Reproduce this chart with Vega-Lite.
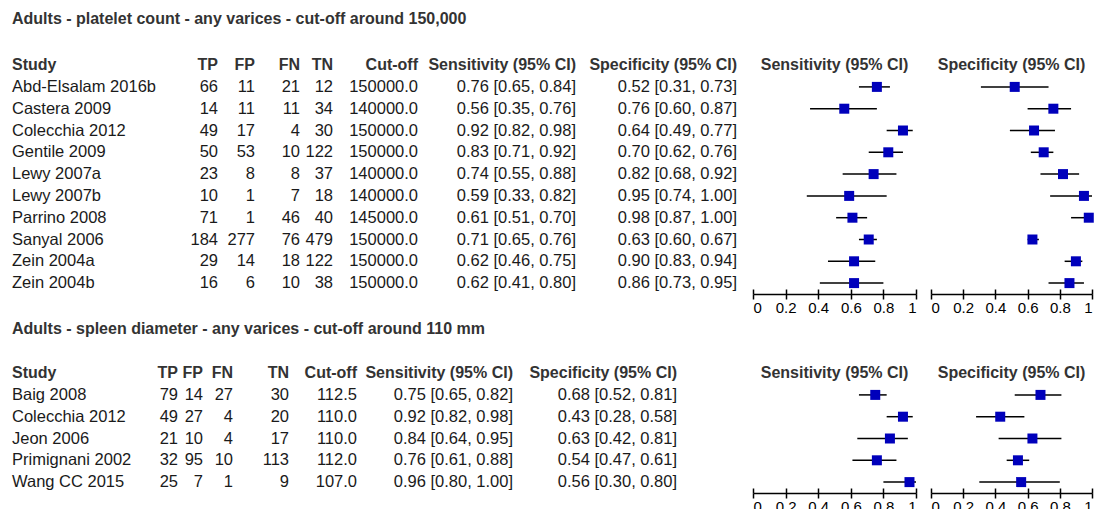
{
  "$schema": "https://vega.github.io/schema/vega-lite/v6.json",
  "background": "white",
  "padding": {"left": 12, "top": 11, "right": 0, "bottom": 0},
  "config": {
    "view": {"stroke": null},
    "font": "Liberation Sans",
    "title": {"font": "Liberation Sans", "fontSize": 16, "fontWeight": "bold", "color": "#333333", "baseline": "middle", "offset": 3, "frame": "group"},
    "text": {"font": "Liberation Sans", "fontSize": 16.5, "color": "#1a1a1a"}
  },
  "datasets": {
    "platelet": [
      {"Study": "Abd-Elsalam 2016b", "TP": 66, "FP": 11, "FN": 21, "TN": 12, "Cutoff": 150000, "sens": 0.76, "sensLo": 0.65, "sensHi": 0.84, "spec": 0.52, "specLo": 0.31, "specHi": 0.73},
      {"Study": "Castera 2009", "TP": 14, "FP": 11, "FN": 11, "TN": 34, "Cutoff": 140000, "sens": 0.56, "sensLo": 0.35, "sensHi": 0.76, "spec": 0.76, "specLo": 0.60, "specHi": 0.87},
      {"Study": "Colecchia 2012", "TP": 49, "FP": 17, "FN": 4, "TN": 30, "Cutoff": 150000, "sens": 0.92, "sensLo": 0.82, "sensHi": 0.98, "spec": 0.64, "specLo": 0.49, "specHi": 0.77},
      {"Study": "Gentile 2009", "TP": 50, "FP": 53, "FN": 10, "TN": 122, "Cutoff": 150000, "sens": 0.83, "sensLo": 0.71, "sensHi": 0.92, "spec": 0.70, "specLo": 0.62, "specHi": 0.76},
      {"Study": "Lewy 2007a", "TP": 23, "FP": 8, "FN": 8, "TN": 37, "Cutoff": 140000, "sens": 0.74, "sensLo": 0.55, "sensHi": 0.88, "spec": 0.82, "specLo": 0.68, "specHi": 0.92},
      {"Study": "Lewy 2007b", "TP": 10, "FP": 1, "FN": 7, "TN": 18, "Cutoff": 140000, "sens": 0.59, "sensLo": 0.33, "sensHi": 0.82, "spec": 0.95, "specLo": 0.74, "specHi": 1.00},
      {"Study": "Parrino 2008", "TP": 71, "FP": 1, "FN": 46, "TN": 40, "Cutoff": 145000, "sens": 0.61, "sensLo": 0.51, "sensHi": 0.70, "spec": 0.98, "specLo": 0.87, "specHi": 1.00},
      {"Study": "Sanyal 2006", "TP": 184, "FP": 277, "FN": 76, "TN": 479, "Cutoff": 150000, "sens": 0.71, "sensLo": 0.65, "sensHi": 0.76, "spec": 0.63, "specLo": 0.60, "specHi": 0.67},
      {"Study": "Zein 2004a", "TP": 29, "FP": 14, "FN": 18, "TN": 122, "Cutoff": 150000, "sens": 0.62, "sensLo": 0.46, "sensHi": 0.75, "spec": 0.90, "specLo": 0.83, "specHi": 0.94},
      {"Study": "Zein 2004b", "TP": 16, "FP": 6, "FN": 10, "TN": 38, "Cutoff": 150000, "sens": 0.62, "sensLo": 0.41, "sensHi": 0.80, "spec": 0.86, "specLo": 0.73, "specHi": 0.95}
    ],
    "spleen": [
      {"Study": "Baig 2008", "TP": 79, "FP": 14, "FN": 27, "TN": 30, "Cutoff": 112.5, "sens": 0.75, "sensLo": 0.65, "sensHi": 0.82, "spec": 0.68, "specLo": 0.52, "specHi": 0.81},
      {"Study": "Colecchia 2012", "TP": 49, "FP": 27, "FN": 4, "TN": 20, "Cutoff": 110.0, "sens": 0.92, "sensLo": 0.82, "sensHi": 0.98, "spec": 0.43, "specLo": 0.28, "specHi": 0.58},
      {"Study": "Jeon 2006", "TP": 21, "FP": 10, "FN": 4, "TN": 17, "Cutoff": 110.0, "sens": 0.84, "sensLo": 0.64, "sensHi": 0.95, "spec": 0.63, "specLo": 0.42, "specHi": 0.81},
      {"Study": "Primignani 2002", "TP": 32, "FP": 95, "FN": 10, "TN": 113, "Cutoff": 112.0, "sens": 0.76, "sensLo": 0.61, "sensHi": 0.88, "spec": 0.54, "specLo": 0.47, "specHi": 0.61},
      {"Study": "Wang CC 2015", "TP": 25, "FP": 7, "FN": 1, "TN": 9, "Cutoff": 107.0, "sens": 0.96, "sensLo": 0.80, "sensHi": 1.00, "spec": 0.56, "specLo": 0.30, "specHi": 0.80}
    ]
  },
  "spacing": 6,
  "vconcat": [
    {
      "data": {"name": "platelet"},
      "transform": [
        {"calculate": "format(datum.sens, '.2f') + ' [' + format(datum.sensLo, '.2f') + ', ' + format(datum.sensHi, '.2f') + ']'", "as": "sensCI"},
        {"calculate": "format(datum.spec, '.2f') + ' [' + format(datum.specLo, '.2f') + ', ' + format(datum.specHi, '.2f') + ']'", "as": "specCI"}
      ],
      "title": {"text": "Adults - platelet count - any varices - cut-off around 150,000", "anchor": "start", "offset": 30},
      "spacing": 15,
      "hconcat": [
        {
          "spacing": 0,
          "hconcat": [
            {"width": 150, "height": 218, "title": {"text": "Study", "anchor": "start"},
             "mark": {"type": "text", "align": "left"},
             "encoding": {"y": {"field": "Study", "type": "nominal", "sort": null, "axis": null, "scale": {"type": "point", "padding": 0.5}}, "x": {"value": 0}, "text": {"field": "Study"}}},
            {"width": 56, "height": 218, "title": {"text": "TP", "anchor": "end"},
             "mark": {"type": "text", "align": "right"},
             "encoding": {"y": {"field": "Study", "type": "nominal", "sort": null, "axis": null, "scale": {"type": "point", "padding": 0.5}}, "x": {"value": "width"}, "text": {"field": "TP"}}},
            {"width": 37, "height": 218, "title": {"text": "FP", "anchor": "end"},
             "mark": {"type": "text", "align": "right"},
             "encoding": {"y": {"field": "Study", "type": "nominal", "sort": null, "axis": null, "scale": {"type": "point", "padding": 0.5}}, "x": {"value": "width"}, "text": {"field": "FP"}}},
            {"width": 45, "height": 218, "title": {"text": "FN", "anchor": "end"},
             "mark": {"type": "text", "align": "right"},
             "encoding": {"y": {"field": "Study", "type": "nominal", "sort": null, "axis": null, "scale": {"type": "point", "padding": 0.5}}, "x": {"value": "width"}, "text": {"field": "FN"}}},
            {"width": 33, "height": 218, "title": {"text": "TN", "anchor": "end"},
             "mark": {"type": "text", "align": "right"},
             "encoding": {"y": {"field": "Study", "type": "nominal", "sort": null, "axis": null, "scale": {"type": "point", "padding": 0.5}}, "x": {"value": "width"}, "text": {"field": "TN"}}},
            {"width": 85, "height": 218, "title": {"text": "Cut-off", "anchor": "end"},
             "mark": {"type": "text", "align": "right"},
             "encoding": {"y": {"field": "Study", "type": "nominal", "sort": null, "axis": null, "scale": {"type": "point", "padding": 0.5}}, "x": {"value": "width"}, "text": {"field": "Cutoff", "format": ".1f"}}},
            {"width": 158, "height": 218, "title": {"text": "Sensitivity (95% CI)", "anchor": "end"},
             "mark": {"type": "text", "align": "right"},
             "encoding": {"y": {"field": "Study", "type": "nominal", "sort": null, "axis": null, "scale": {"type": "point", "padding": 0.5}}, "x": {"value": "width"}, "text": {"field": "sensCI"}}},
            {"width": 161, "height": 218, "title": {"text": "Specificity (95% CI)", "anchor": "end"},
             "mark": {"type": "text", "align": "right"},
             "encoding": {"y": {"field": "Study", "type": "nominal", "sort": null, "axis": null, "scale": {"type": "point", "padding": 0.5}}, "x": {"value": "width"}, "text": {"field": "specCI"}}}
          ]
        },
        {
          "spacing": 13,
          "hconcat": [
            {
              "width": 163, "height": 218,
              "title": {"text": "Sensitivity (95% CI)", "anchor": "middle"},
              "resolve": {"axis": {"x": "independent"}},
              "layer": [
                {"mark": {"type": "rule", "color": "#000000", "strokeWidth": 1.5},
                 "encoding": {
                   "y": {"field": "Study", "type": "nominal", "sort": null, "axis": null, "scale": {"type": "point", "padding": 0.5}},
                   "x": {"field": "sensLo", "type": "quantitative", "scale": {"domain": [0, 1], "nice": false, "zero": false},
                         "axis": {"orient": "bottom", "values": [0, 0.2, 0.4, 0.6, 0.8, 1], "format": "~g", "title": null, "grid": false, "domainColor": "#000000", "domainWidth": 1.5, "tickColor": "#000000", "tickWidth": 1.5, "tickSize": 5, "labelPadding": 1, "labelFont": "Liberation Sans", "labelFontSize": 15, "labelColor": "#000000", "labelFlush": true, "labelOverlap": false}},
                   "x2": {"field": "sensHi"}
                 }},
                {"mark": {"type": "square", "size": 100, "color": "#0000bb", "opacity": 1},
                 "encoding": {
                   "y": {"field": "Study", "type": "nominal", "sort": null, "axis": null, "scale": {"type": "point", "padding": 0.5}},
                   "x": {"field": "sens", "type": "quantitative",
                         "axis": {"orient": "bottom", "values": [0, 0.2, 0.4, 0.6, 0.8, 1], "title": null, "grid": false, "domain": false, "labels": false, "tickColor": "#000000", "tickWidth": 1.5, "tickSize": -5}}
                 }}
              ]
            },
            {
              "width": 161, "height": 218,
              "title": {"text": "Specificity (95% CI)", "anchor": "middle"},
              "resolve": {"axis": {"x": "independent"}},
              "layer": [
                {"mark": {"type": "rule", "color": "#000000", "strokeWidth": 1.5},
                 "encoding": {
                   "y": {"field": "Study", "type": "nominal", "sort": null, "axis": null, "scale": {"type": "point", "padding": 0.5}},
                   "x": {"field": "specLo", "type": "quantitative", "scale": {"domain": [0, 1], "nice": false, "zero": false},
                         "axis": {"orient": "bottom", "values": [0, 0.2, 0.4, 0.6, 0.8, 1], "format": "~g", "title": null, "grid": false, "domainColor": "#000000", "domainWidth": 1.5, "tickColor": "#000000", "tickWidth": 1.5, "tickSize": 5, "labelPadding": 1, "labelFont": "Liberation Sans", "labelFontSize": 15, "labelColor": "#000000", "labelFlush": true, "labelOverlap": false}},
                   "x2": {"field": "specHi"}
                 }},
                {"mark": {"type": "square", "size": 100, "color": "#0000bb", "opacity": 1},
                 "encoding": {
                   "y": {"field": "Study", "type": "nominal", "sort": null, "axis": null, "scale": {"type": "point", "padding": 0.5}},
                   "x": {"field": "spec", "type": "quantitative",
                         "axis": {"orient": "bottom", "values": [0, 0.2, 0.4, 0.6, 0.8, 1], "title": null, "grid": false, "domain": false, "labels": false, "tickColor": "#000000", "tickWidth": 1.5, "tickSize": -5}}
                 }}
              ]
            }
          ]
        }
      ]
    },
    {
      "data": {"name": "spleen"},
      "transform": [
        {"calculate": "format(datum.sens, '.2f') + ' [' + format(datum.sensLo, '.2f') + ', ' + format(datum.sensHi, '.2f') + ']'", "as": "sensCI"},
        {"calculate": "format(datum.spec, '.2f') + ' [' + format(datum.specLo, '.2f') + ', ' + format(datum.specHi, '.2f') + ']'", "as": "specCI"}
      ],
      "title": {"text": "Adults - spleen diameter - any varices - cut-off around 110 mm", "anchor": "start", "offset": 28},
      "spacing": 75,
      "hconcat": [
        {
          "spacing": 0,
          "hconcat": [
            {"width": 130, "height": 109, "title": {"text": "Study", "anchor": "start"},
             "mark": {"type": "text", "align": "left"},
             "encoding": {"y": {"field": "Study", "type": "nominal", "sort": null, "axis": null, "scale": {"type": "point", "padding": 0.5}}, "x": {"value": 0}, "text": {"field": "Study"}}},
            {"width": 36, "height": 109, "title": {"text": "TP", "anchor": "end"},
             "mark": {"type": "text", "align": "right"},
             "encoding": {"y": {"field": "Study", "type": "nominal", "sort": null, "axis": null, "scale": {"type": "point", "padding": 0.5}}, "x": {"value": "width"}, "text": {"field": "TP"}}},
            {"width": 25, "height": 109, "title": {"text": "FP", "anchor": "end"},
             "mark": {"type": "text", "align": "right"},
             "encoding": {"y": {"field": "Study", "type": "nominal", "sort": null, "axis": null, "scale": {"type": "point", "padding": 0.5}}, "x": {"value": "width"}, "text": {"field": "FP"}}},
            {"width": 30, "height": 109, "title": {"text": "FN", "anchor": "end"},
             "mark": {"type": "text", "align": "right"},
             "encoding": {"y": {"field": "Study", "type": "nominal", "sort": null, "axis": null, "scale": {"type": "point", "padding": 0.5}}, "x": {"value": "width"}, "text": {"field": "FN"}}},
            {"width": 56, "height": 109, "title": {"text": "TN", "anchor": "end"},
             "mark": {"type": "text", "align": "right"},
             "encoding": {"y": {"field": "Study", "type": "nominal", "sort": null, "axis": null, "scale": {"type": "point", "padding": 0.5}}, "x": {"value": "width"}, "text": {"field": "TN"}}},
            {"width": 68, "height": 109, "title": {"text": "Cut-off", "anchor": "end"},
             "mark": {"type": "text", "align": "right"},
             "encoding": {"y": {"field": "Study", "type": "nominal", "sort": null, "axis": null, "scale": {"type": "point", "padding": 0.5}}, "x": {"value": "width"}, "text": {"field": "Cutoff", "format": ".1f"}}},
            {"width": 156, "height": 109, "title": {"text": "Sensitivity (95% CI)", "anchor": "end"},
             "mark": {"type": "text", "align": "right"},
             "encoding": {"y": {"field": "Study", "type": "nominal", "sort": null, "axis": null, "scale": {"type": "point", "padding": 0.5}}, "x": {"value": "width"}, "text": {"field": "sensCI"}}},
            {"width": 164, "height": 109, "title": {"text": "Specificity (95% CI)", "anchor": "end"},
             "mark": {"type": "text", "align": "right"},
             "encoding": {"y": {"field": "Study", "type": "nominal", "sort": null, "axis": null, "scale": {"type": "point", "padding": 0.5}}, "x": {"value": "width"}, "text": {"field": "specCI"}}}
          ]
        },
        {
          "spacing": 13,
          "hconcat": [
            {
              "width": 163, "height": 109,
              "title": {"text": "Sensitivity (95% CI)", "anchor": "middle"},
              "resolve": {"axis": {"x": "independent"}},
              "layer": [
                {"mark": {"type": "rule", "color": "#000000", "strokeWidth": 1.5},
                 "encoding": {
                   "y": {"field": "Study", "type": "nominal", "sort": null, "axis": null, "scale": {"type": "point", "padding": 0.5}},
                   "x": {"field": "sensLo", "type": "quantitative", "scale": {"domain": [0, 1], "nice": false, "zero": false},
                         "axis": {"orient": "bottom", "values": [0, 0.2, 0.4, 0.6, 0.8, 1], "format": "~g", "title": null, "grid": false, "domainColor": "#000000", "domainWidth": 1.5, "tickColor": "#000000", "tickWidth": 1.5, "tickSize": 5, "labelPadding": 1, "labelFont": "Liberation Sans", "labelFontSize": 15, "labelColor": "#000000", "labelFlush": true, "labelOverlap": false}},
                   "x2": {"field": "sensHi"}
                 }},
                {"mark": {"type": "square", "size": 100, "color": "#0000bb", "opacity": 1},
                 "encoding": {
                   "y": {"field": "Study", "type": "nominal", "sort": null, "axis": null, "scale": {"type": "point", "padding": 0.5}},
                   "x": {"field": "sens", "type": "quantitative",
                         "axis": {"orient": "bottom", "values": [0, 0.2, 0.4, 0.6, 0.8, 1], "title": null, "grid": false, "domain": false, "labels": false, "tickColor": "#000000", "tickWidth": 1.5, "tickSize": -5}}
                 }}
              ]
            },
            {
              "width": 161, "height": 109,
              "title": {"text": "Specificity (95% CI)", "anchor": "middle"},
              "resolve": {"axis": {"x": "independent"}},
              "layer": [
                {"mark": {"type": "rule", "color": "#000000", "strokeWidth": 1.5},
                 "encoding": {
                   "y": {"field": "Study", "type": "nominal", "sort": null, "axis": null, "scale": {"type": "point", "padding": 0.5}},
                   "x": {"field": "specLo", "type": "quantitative", "scale": {"domain": [0, 1], "nice": false, "zero": false},
                         "axis": {"orient": "bottom", "values": [0, 0.2, 0.4, 0.6, 0.8, 1], "format": "~g", "title": null, "grid": false, "domainColor": "#000000", "domainWidth": 1.5, "tickColor": "#000000", "tickWidth": 1.5, "tickSize": 5, "labelPadding": 1, "labelFont": "Liberation Sans", "labelFontSize": 15, "labelColor": "#000000", "labelFlush": true, "labelOverlap": false}},
                   "x2": {"field": "specHi"}
                 }},
                {"mark": {"type": "square", "size": 100, "color": "#0000bb", "opacity": 1},
                 "encoding": {
                   "y": {"field": "Study", "type": "nominal", "sort": null, "axis": null, "scale": {"type": "point", "padding": 0.5}},
                   "x": {"field": "spec", "type": "quantitative",
                         "axis": {"orient": "bottom", "values": [0, 0.2, 0.4, 0.6, 0.8, 1], "title": null, "grid": false, "domain": false, "labels": false, "tickColor": "#000000", "tickWidth": 1.5, "tickSize": -5}}
                 }}
              ]
            }
          ]
        }
      ]
    }
  ]
}
